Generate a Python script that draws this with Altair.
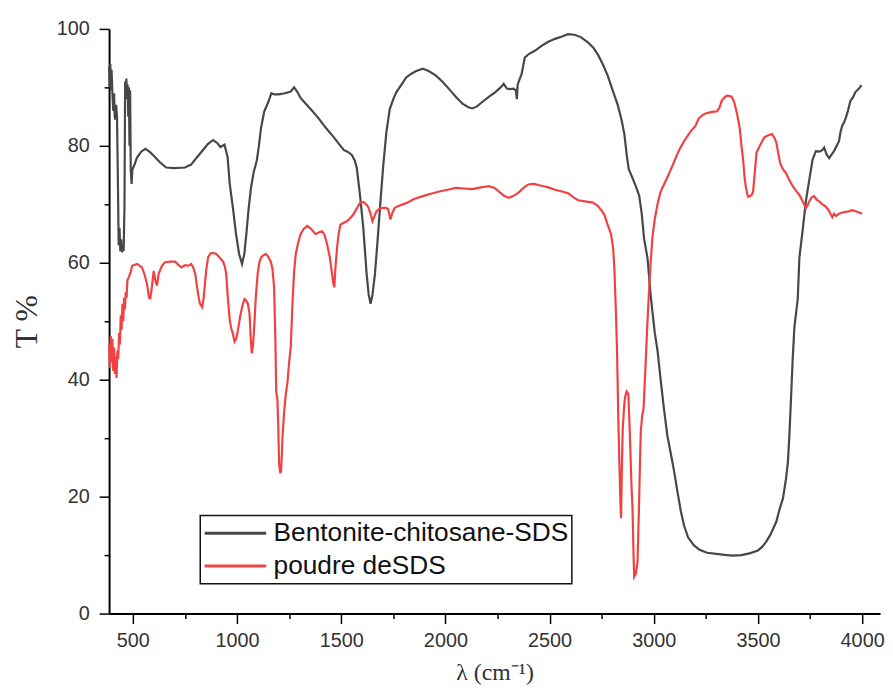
import altair as alt
import pandas as pd

# ---- data ----
black_x = [386, 389, 392, 395, 398, 402, 406, 410, 413, 416, 420, 424, 428, 432, 436, 440, 444, 448, 452, 456,
           460, 463, 466, 469, 472, 475, 478, 481, 484, 487, 490, 494, 498, 505, 520, 540, 560, 580, 600, 630,
           660, 700, 750, 780, 800, 830, 860, 885, 905, 920, 940, 955, 965, 980, 995, 1010, 1024, 1035, 1045, 1055,
           1067, 1080, 1095, 1105, 1115, 1130, 1150, 1165, 1180, 1200, 1230, 1258, 1274, 1290, 1305, 1330, 1353,
           1385, 1417, 1440, 1464, 1490, 1512, 1530, 1550, 1565, 1575, 1590, 1606, 1622, 1632, 1641, 1650, 1662,
           1675, 1686, 1702, 1717, 1733, 1750, 1765, 1790, 1812, 1835, 1860, 1892, 1920, 1955, 1985, 2018, 2050,
           2082, 2110, 2129, 2150, 2177, 2210, 2240, 2265, 2280, 2295, 2310, 2327, 2338, 2343, 2347, 2355, 2366,
           2375, 2381, 2400, 2431, 2461, 2494, 2526, 2560, 2589, 2620, 2650, 2684, 2710, 2732, 2755, 2779, 2800,
           2827, 2845, 2859, 2870, 2880, 2898, 2915, 2930, 2942, 2954, 2970, 2985, 2994, 3005, 3018, 3033, 3049,
           3065, 3081, 3097, 3113, 3130, 3145, 3165, 3192, 3220, 3255, 3300, 3350, 3380, 3420, 3460, 3500, 3520,
           3540, 3560, 3588, 3605, 3620, 3635, 3644, 3651, 3659, 3667, 3675, 3691, 3699, 3715, 3730, 3746, 3762,
           3778, 3795, 3810, 3818, 3830, 3842, 3855, 3865, 3878, 3889, 3897, 3905, 3913, 3921, 3932, 3944, 3956,
           3968, 3985, 3997]
black_y = [93.5, 90, 94, 89.5, 93, 89, 86, 89, 85, 84.5, 87, 85, 75, 63, 66, 62, 64, 61.8, 63, 62,
           70, 91, 88, 91.5, 89, 90.5, 85, 90, 80, 89.5, 76, 73.5, 76, 76.5, 78, 79, 79.5, 79, 78.3, 77.2,
           76.3, 76.2, 76.3, 76.8, 77.7, 79, 80.3, 81, 80.5, 79.8, 80.2, 78, 73.5, 69.5, 65, 61.5, 59.8, 61.5, 65, 69,
           72.8, 75.5, 77.5, 80, 83, 85.8, 87.5, 89, 88.8, 88.8, 89, 89.3, 90, 89.2, 88.2, 87.2, 86.3,
           85, 83.5, 82.5, 81.5, 80.3, 79.3, 79, 78.5, 77.5, 76.2, 71.6, 66, 58.1, 54.5, 53, 54.5, 58.1,
           64, 69.4, 76.7, 82.4, 86.3, 88, 89.2, 90.5, 91.7, 92.3, 92.8, 93.2, 92.8, 92, 91, 89.7, 88.4,
           87.2, 86.6, 86.4, 86.7, 87.5, 88.4, 89.2, 90, 90.6, 89.8, 89.7, 89.8, 89.5, 88, 90.5, 91.3, 92.3,
           94, 95.1, 95.7, 96.3, 97.1, 97.8, 98.3, 98.7, 99.1, 99.0, 98.6, 97.7, 96.8, 95.6, 94, 92, 89.8,
           87, 84.5, 82, 78.5, 76, 74.5, 73, 71.5, 68.5, 64, 60.8, 54.5, 51.5, 48, 45, 40, 35,
           30.5, 27.5, 24.5, 21, 17.5, 15.1, 13, 11.7, 10.9, 10.4, 10.2, 10, 9.9, 10, 10.3, 10.8, 11.4,
           12.3, 13.5, 15.7, 18, 19.7, 23.1, 26, 30.6, 37, 43.7, 49, 53.8, 60.9, 65.7, 70.5, 74.1, 77.6,
           79.1, 79, 79.3, 79.7, 78.5, 77.9, 78.6, 79.1, 80, 80.8, 82.5, 83.5, 84, 84.7, 86, 87.7, 88.3,
           89.2, 89.8, 90.4]

red_x = [386, 390, 394, 398, 402, 406, 410, 414, 418, 422, 426, 430, 434, 438, 442, 446, 450, 454, 458, 462,
         466, 470, 474, 480, 489, 497, 520, 544, 556, 568, 578, 584, 592, 600, 608, 616, 624, 640, 655, 680,
         703, 720, 734, 750, 766, 780, 790, 800, 806, 814, 822, 833, 840, 846, 853, 861, 872, 885, 900, 909,
         921, 933, 942, 948, 956, 965, 972, 980, 988, 996, 1004, 1016, 1028, 1036, 1043, 1052, 1060, 1066, 1071,
         1077, 1083, 1090, 1099, 1107, 1115, 1127, 1139, 1150, 1162, 1170, 1178, 1184, 1188, 1194, 1198, 1202,
         1208, 1212, 1218, 1226, 1234, 1242, 1250, 1258, 1266, 1274, 1282, 1294, 1305, 1320, 1337, 1355, 1377,
         1392, 1408, 1420, 1432, 1445, 1456, 1462, 1467, 1472, 1480, 1488, 1496, 1510, 1527, 1545, 1559, 1575,
         1590, 1606, 1620, 1630, 1640, 1650, 1658, 1669, 1685, 1702, 1715, 1725, 1731, 1736, 1745, 1757, 1780,
         1812, 1850, 1892, 1930, 1971, 2010, 2050, 2090, 2129, 2170, 2209, 2235, 2256, 2280, 2303, 2325, 2351,
         2375, 2398, 2425, 2446, 2470, 2494, 2526, 2560, 2589, 2615, 2637, 2670, 2708, 2730, 2748, 2763, 2779,
         2795, 2805, 2811, 2818, 2824, 2830, 2835, 2840, 2843, 2847, 2851, 2857, 2862, 2870, 2878, 2883, 2887,
         2893, 2898, 2903, 2906, 2914, 2922, 2926, 2930, 2934, 2938, 2945, 2951, 2960, 2968, 2975, 2985, 2994,
         3005, 3018, 3030, 3041, 3052, 3065, 3080, 3097, 3112, 3128, 3144, 3160, 3180, 3200, 3216, 3235, 3255,
         3280, 3303, 3315, 3326, 3340, 3350, 3365, 3374, 3386, 3397, 3405, 3413, 3421, 3429, 3436, 3442, 3452,
         3461, 3470, 3477, 3485, 3493, 3509, 3520, 3532, 3550, 3568, 3580, 3588, 3597, 3607, 3620, 3635, 3650,
         3667, 3683, 3699, 3715, 3730, 3738, 3746, 3758, 3770, 3782, 3794, 3810, 3825, 3840, 3850, 3857, 3865,
         3875, 3889, 3905, 3921, 3935, 3952, 3970, 3985, 4000]
red_y = [46, 42, 47.5, 43, 47, 41.5, 45.5, 41, 44, 40.3, 45, 43.5, 48, 46, 51, 48.5, 53, 50, 54, 52,
         55, 54, 57, 57.5, 58.3, 59.5, 59.8, 59.2, 58, 56.4, 54, 53.9, 56, 58.6, 57, 56.1, 58.1, 59.5, 60.1, 60.2,
         60.2, 59.6, 59.2, 59.6, 59.5, 59.8, 59.2, 58, 56.4, 54.5, 53, 52.4, 54, 56.4, 59, 60.9, 61.6, 61.7, 61.5, 61.2,
         60.7, 60.2, 59.3, 58.1, 54, 50.2, 48.8, 47.9, 46.5, 47, 48.4, 51, 53, 53.8, 53.6, 53, 51.3, 47, 44.5,
         46, 49.3, 54, 58.1, 60, 60.9, 61.3, 61.5, 61, 60.2, 59, 55.8, 47, 38, 36.5, 32, 25.6,
         24, 24.5, 30, 34.4, 37.5, 39.5, 43, 45.6, 53, 58.5, 61.5, 63.5, 64.9, 65.8, 66.3, 65.8, 64.9,
         65.2, 65.4, 64.8, 63.2, 61, 58.1, 56.5, 55.8, 59, 62.6, 65, 66.5, 66.8, 67.1, 67.7, 68.3, 69.3,
         70.2, 70.4, 70, 69.5, 68.5, 67.1, 67.8, 68.8, 69.3, 69.4, 69.4, 69.2, 68.3, 67.4, 68.5, 69.4, 69.8,
         70.2, 70.9, 71.4, 71.8, 72.2, 72.5, 72.8, 72.7, 72.6, 72.9, 73.1, 72.8, 72.2, 71.5, 71.1, 71.4, 72,
         72.8, 73.4, 73.5, 73.3, 73.1, 72.9, 72.5, 72.2, 71.9, 71.2, 70.7, 70.5, 70.3, 69.8, 69, 68.2, 66.5,
         64.9, 62.5, 59, 52, 44.6, 33, 25.8, 19, 16.3, 25, 31.4, 35, 37, 38, 37.6, 33, 28.8,
         22, 18.1, 10, 6.3, 6.8, 8.8, 14, 19.5, 26, 31.4, 34, 35, 42, 48.5, 53.6, 60, 64.5,
         67.5, 70, 71.8, 72.8, 73.6, 74.6, 75.8, 77.2, 78.5, 79.7, 80.7, 81.6, 82.6, 83.4, 84.7, 85.3, 85.6,
         85.8, 85.9, 86.5, 87.7, 88.3, 88.6, 88.5, 88.4, 87.5, 85.9, 84.5, 82.9, 80, 77.6, 74.5, 72.9, 71.3,
         71.4, 71.6, 72.2, 75.5, 78.8, 80, 80.8, 81.5, 81.8, 82, 81.3, 80.6, 78.8, 77, 76, 75.3, 74.2,
         73.1, 72.3, 71.6, 70.5, 69.3, 69.8, 70.5, 71.2, 71.4, 70.8, 70.5, 70, 69.6, 69, 68.2, 67.8, 68.4,
         68, 68.4, 68.6, 68.7, 68.8, 69, 68.8, 68.6, 68.4]

series_names = ["Bentonite-chitosane-SDS", "poudre deSDS"]
series_colors = ["#474747", "#F24141"]

x_ticks = [500, 750, 1000, 1250, 1500, 1750, 2000, 2250, 2500, 2750, 3000, 3250, 3500, 3750, 4000]
y_ticks = [0, 10, 20, 30, 40, 50, 60, 70, 80, 90, 100]

df = pd.concat([
    pd.DataFrame({"x": black_x, "y": black_y, "s": series_names[0], "o": range(len(black_x))}),
    pd.DataFrame({"x": red_x, "y": red_y, "s": series_names[1], "o": range(len(red_x))}),
])

label_col = "#333333"

chart = alt.Chart(df).mark_line(strokeWidth=2.2).encode(
    x=alt.X("x:Q",
            scale=alt.Scale(domain=[386, 4086], nice=False, zero=False),
            axis=alt.Axis(values=x_ticks, format="d",
                          labelExpr="datum.value % 500 === 0 ? datum.label : ''",
                          tickSize={"condition": {"test": "datum.value % 500 === 0", "value": 10}, "value": 5},
                          labelFontSize=20, labelFont="Liberation Sans", labelColor=label_col,
                          labelPadding=7, labelFlush=False,
                          title="λ (cm⁻¹)", titleFont="Liberation Serif", titleFontSize=24,
                          titleFontWeight="normal", titleColor=label_col,
                          titleBaseline="top", titleX=389, titleY=48)),
    y=alt.Y("y:Q",
            scale=alt.Scale(domain=[0, 100], nice=False),
            axis=alt.Axis(values=y_ticks,
                          labelExpr="datum.value % 20 === 0 ? datum.label : ''",
                          tickSize={"condition": {"test": "datum.value % 20 === 0", "value": 10}, "value": 5},
                          labelFontSize=20, labelFont="Liberation Sans", labelColor=label_col,
                          labelPadding=10, labelFlush=False,
                          title="T %", titleFont="Liberation Serif", titleFontSize=32,
                          titleFontWeight="normal", titleColor=label_col,
                          titleAngle=270, titleBaseline="middle", titleAlign="center",
                          titleX=-83, titleY=295)),
    color=alt.Color("s:N",
                    scale=alt.Scale(domain=series_names, range=series_colors),
                    legend=alt.Legend(title=None, orient="none", legendX=92, legendY=491,
                                      symbolType="stroke", symbolSize=3844, symbolStrokeWidth=3,
                                      labelFontSize=26.5, labelFont="Liberation Sans", labelColor="#111111",
                                      labelOffset=6, labelLimit=500, clipHeight=30,
                                      rowPadding=3, padding=3,
                                      strokeColor="#111111", fillColor="white")),
    order="o:Q",
).properties(
    width=778, height=590,
    autosize=alt.AutoSizeParams(type="none"),
    padding={"left": 102, "top": 18, "right": 5, "bottom": 73},
).configure_view(stroke=None).configure_axis(
    grid=False, domainColor="black", domainWidth=2, tickColor="black", tickWidth=1.5,
).configure_legend(strokeWidth=1.5)

chart.save("out.html", embed_options={"renderer": "svg", "actions": False})
